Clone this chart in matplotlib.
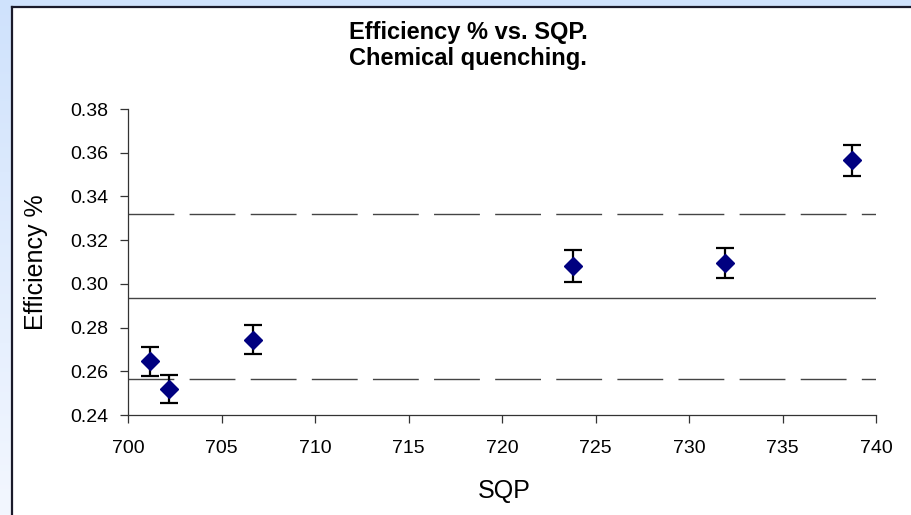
import matplotlib
matplotlib.use("Agg")
import matplotlib.pyplot as plt
from matplotlib.patches import Rectangle
from matplotlib.colors import LinearSegmentedColormap
import numpy as np

# Data
sqp = [701.2, 702.2, 706.7, 723.8, 731.9, 738.7]
efficiency = [0.2645, 0.252, 0.2745, 0.308, 0.3095, 0.3565]
errors = [0.0065, 0.0063, 0.0067, 0.0073, 0.0069, 0.0072]
mean_line = 0.2935
upper_line = 0.332
lower_line = 0.2565
x_ticks = [700, 705, 710, 715, 720, 725, 730, 735, 740]
y_ticks = [0.24, 0.26, 0.28, 0.30, 0.32, 0.34, 0.36, 0.38]

plt.rcParams['font.family'] = ['Liberation Sans', 'DejaVu Sans']

W, H = 911, 515
fig = plt.figure(figsize=(W / 100, H / 100), dpi=100)

# Background gradient (light blue) behind the chart area
bg = fig.add_axes([0, 0, 1, 1], zorder=-10)
grad = np.linspace(0, 1, 256).reshape(-1, 1)
cmap = LinearSegmentedColormap.from_list("bg", ["#cfe2fc", "#f3f7ff"])
bg.imshow(grad, aspect='auto', cmap=cmap, extent=[0, 1, 0, 1], origin='upper')
bg.set_xlim(0, 1)
bg.set_ylim(0, 1)
bg.axis('off')
x0 = 12 / W
y_top = 1 - 7 / H
bg.add_patch(Rectangle((x0, 0), 1 - x0 + 0.01, y_top, facecolor='white',
                       edgecolor='none', zorder=2))
bg.plot([x0, x0], [0, y_top], color='#1a1a2a', lw=1.6, zorder=3)
bg.plot([x0, 1], [y_top, y_top], color='#1a1a2a', lw=1.6, zorder=3)

left = 128 / W
right = 876 / W
bottom = 1 - 415 / H
top = 1 - 109 / H
ax = fig.add_axes([left, bottom, right - left, top - bottom])
ax.set_facecolor('none')

ax.set_xlim(700, 740)
ax.set_ylim(0.24, 0.38)

# Reference lines
ax.hlines(mean_line, 700, 740, color='#444444', lw=1.0, zorder=2)
ax.hlines([upper_line, lower_line], 700, 740, color='#444444', lw=1.0,
          linestyles=(0, (33, 11)), zorder=2)

ax.errorbar(sqp, efficiency, yerr=errors, fmt='D', color='#000080',
            markersize=9, markeredgecolor='#000080', ecolor='black',
            elinewidth=1.6, capsize=6.5, capthick=1.6, zorder=3)

ax.set_xticks(x_ticks)
ax.set_xticklabels([str(t) for t in x_ticks])
ax.set_yticks(y_ticks)
ax.set_yticklabels([f"{t:.2f}" for t in y_ticks])

for s in ['top', 'right']:
    ax.spines[s].set_visible(False)
for s in ['left', 'bottom']:
    ax.spines[s].set_color('#333333')
    ax.spines[s].set_linewidth(0.9)
ax.tick_params(axis='both', direction='out', length=6, width=0.9,
               color='#333333', labelsize=14)
ax.tick_params(axis='y', pad=8)
ax.tick_params(axis='x', pad=12)

ax.set_xlabel('SQP', fontsize=18, va='center')
ax.xaxis.set_label_coords((504 - 128) / 748, (415 - 491) / 306)
ax.set_ylabel('Efficiency %', fontsize=18, va='center')
ax.yaxis.set_label_coords((36 - 128) / 748, 0.5)

fig.text(468 / W, 1 - 33 / H, 'Efficiency % vs. SQP.', ha='center', va='center',
         fontsize=17, fontweight='bold')
fig.text(468 / W, 1 - 59 / H, 'Chemical quenching.', ha='center', va='center',
         fontsize=17, fontweight='bold')

fig.savefig('out.png', dpi=100)
